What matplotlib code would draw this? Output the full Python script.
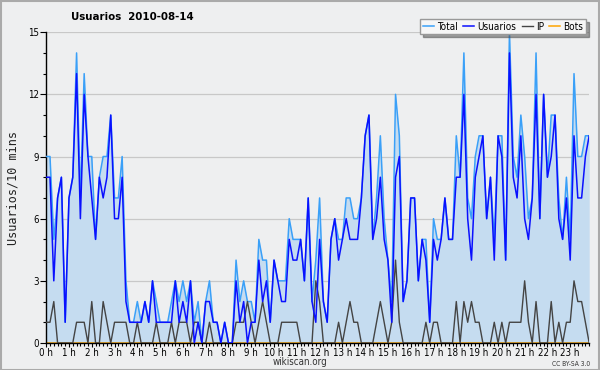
import numpy as np
import matplotlib
matplotlib.use("Agg")
import matplotlib.pyplot as plt
from matplotlib.ticker import MultipleLocator, FixedLocator

# users per 10 minutes, 2010-08-14 (144 slots)
usuarios = [8, 8, 3, 7, 8, 1, 7, 8, 13, 6, 12, 9, 7, 5, 8, 7, 8, 11, 6, 6, 8, 2, 1, 1,
            1, 1, 2, 1, 3, 1, 1, 1, 1, 1, 3, 1, 2, 1, 3, 0, 1, 0, 2, 2, 1, 1, 0, 1,
            0, 0, 3, 1, 2, 0, 1, 1, 4, 2, 3, 1, 4, 3, 2, 2, 5, 4, 4, 5, 3, 7, 2, 1,
            5, 2, 1, 5, 6, 4, 5, 6, 5, 5, 5, 7, 10, 11, 5, 6, 8, 5, 4, 1, 8, 9, 2, 3,
            7, 7, 3, 5, 4, 1, 5, 4, 5, 7, 5, 5, 8, 8, 12, 6, 4, 8, 9, 10, 6, 8, 4, 10,
            9, 4, 14, 8, 7, 10, 6, 5, 7, 12, 6, 12, 8, 9, 11, 6, 5, 7, 4, 10, 7, 7, 9, 10]
ip = [1, 1, 2, 0, 0, 0, 0, 0, 1, 1, 1, 0, 2, 0, 0, 2, 1, 0, 1, 1, 1, 1, 0, 0,
      1, 0, 0, 0, 0, 1, 0, 0, 0, 1, 0, 1, 1, 1, 0, 1, 1, 0, 0, 1, 0, 0, 0, 0,
      0, 0, 1, 1, 1, 2, 1, 0, 1, 2, 1, 0, 0, 0, 1, 1, 1, 1, 1, 0, 0, 0, 0, 3,
      2, 0, 0, 0, 0, 1, 0, 1, 2, 1, 1, 0, 0, 0, 0, 1, 2, 1, 0, 1, 4, 1, 0, 0,
      0, 0, 0, 0, 1, 0, 1, 1, 0, 0, 0, 0, 2, 0, 2, 1, 2, 1, 1, 0, 0, 0, 1, 0,
      1, 0, 1, 1, 1, 1, 3, 1, 0, 2, 0, 0, 0, 2, 0, 1, 0, 1, 1, 3, 2, 2, 1, 0]
total = [9, 9, 5, 7, 8, 1, 7, 8, 14, 7, 13, 9, 9, 5, 8, 9, 9, 11, 7, 7, 9, 3, 1, 1,
         2, 1, 2, 1, 3, 2, 1, 1, 1, 2, 3, 2, 3, 2, 3, 1, 2, 0, 2, 3, 1, 1, 0, 1,
         0, 0, 4, 2, 3, 2, 2, 1, 5, 4, 4, 1, 4, 3, 3, 3, 6, 5, 5, 5, 3, 7, 2, 4,
         7, 2, 1, 5, 6, 5, 5, 7, 7, 6, 6, 7, 10, 11, 5, 7, 10, 6, 4, 2, 12, 10, 2, 3,
         7, 7, 3, 5, 5, 1, 6, 5, 5, 7, 5, 5, 10, 8, 14, 7, 6, 9, 10, 10, 6, 8, 5, 10,
         10, 4, 15, 9, 8, 11, 9, 6, 7, 14, 6, 12, 8, 11, 11, 7, 5, 8, 5, 13, 9, 9, 10, 10]
bots = [0, 0, 0, 0, 0, 0, 0, 0, 0, 0, 0, 0, 0, 0, 0, 0, 0, 0, 0, 0, 0, 0, 0, 0,
        0, 0, 0, 0, 0, 0, 0, 0, 0, 0, 0, 0, 0, 0, 0, 0, 0, 0, 0, 0, 0, 0, 0, 0,
        0, 0, 0, 0, 0, 0, 0, 0, 0, 0, 0, 0, 0, 0, 0, 0, 0, 0, 0, 0, 0, 0, 0, 0,
        0, 0, 0, 0, 0, 0, 0, 0, 0, 0, 0, 0, 0, 0, 0, 0, 0, 0, 0, 0, 0, 0, 0, 0,
        0, 0, 0, 0, 0, 0, 0, 0, 0, 0, 0, 0, 0, 0, 0, 0, 0, 0, 0, 0, 0, 0, 0, 0,
        0, 0, 0, 0, 0, 0, 0, 0, 0, 0, 0, 0, 0, 0, 0, 0, 0, 0, 0, 0, 0, 0, 0, 0]
hour_labels = [f"{h} h" for h in range(24)]

horas = np.arange(len(total)) / 6.0

plt.rcParams["font.stretch"] = "condensed"

bg = "#eeeff0"
fig = plt.figure(figsize=(6, 3.7), dpi=100, facecolor=bg)
ax = fig.add_axes([0.077, 0.073, 0.905, 0.84])
ax.set_facecolor(bg)

ax.fill_between(horas, total, 0, color="#c5dcf0", lw=0, zorder=1)
ax.plot(horas, bots, color="#ffa500", lw=1.1, zorder=1.5, label="Bots")
ax.plot(horas, total, color="#3aa0f8", lw=1.1, zorder=3, label="Total")
ax.plot(horas, ip, color="#444444", lw=1.0, zorder=3.5, label="IP")
ax.plot(horas, usuarios, color="#0a10ff", lw=1.1, zorder=4, label="Usuarios")

ax.set_xlim(0, horas[-1])
ax.set_ylim(0, 15)
ax.yaxis.set_major_locator(MultipleLocator(3))
ax.yaxis.set_minor_locator(MultipleLocator(1))
ax.xaxis.set_major_locator(FixedLocator(range(24)))
ax.xaxis.set_minor_locator(MultipleLocator(1 / 6))
ax.set_xticklabels(hour_labels)
ax.grid(axis="y", color="#c8c8c8", lw=0.9, zorder=0)
ax.set_axisbelow(True)

for s in ["top", "right"]:
    ax.spines[s].set_visible(False)
ax.spines["left"].set_linewidth(1.0)
ax.spines["bottom"].set_linewidth(1.0)
ax.tick_params(axis="y", which="major", length=4, width=0.8, labelsize=7, pad=1)
ax.tick_params(axis="x", which="major", length=3, width=0.8, labelsize=7, pad=0.5)
ax.tick_params(axis="both", which="minor", length=2.5, width=0.8)

ax.set_ylabel("Usuarios/10 mins", family="DejaVu Sans Mono", fontsize=8.5,
              labelpad=6, color="#222222")

fig.text(0.22, 0.955, "Usuarios  2010-08-14", fontsize=8.2, fontweight="bold",
         ha="center", va="center")
fig.text(0.5, 0.022, "wikiscan.org", fontsize=7, ha="center", va="center", color="#333333")
fig.text(0.983, 0.016, "CC BY-SA 3.0", fontsize=4.8, ha="right", va="center", color="#333333")

handles, labels = ax.get_legend_handles_labels()
order = [labels.index(n) for n in ["Total", "Usuarios", "IP", "Bots"]]
leg = fig.legend([handles[i] for i in order], [labels[i] for i in order],
                 loc="upper right", bbox_to_anchor=(0.985, 0.962), ncol=4,
                 fontsize=7.2, handlelength=1.1, handletextpad=0.35, columnspacing=0.5,
                 borderpad=0.25, fancybox=False, shadow=True, framealpha=1,
                 edgecolor="#999999", facecolor="#f6f6f6")

# grey frame around the whole image
fig.patches.append(plt.Rectangle((0.001, 0.001), 0.997, 0.996, transform=fig.transFigure,
                                 fill=False, edgecolor="#aaaaaa", lw=1.5))

fig.savefig("out.png", dpi=100, facecolor=bg)
